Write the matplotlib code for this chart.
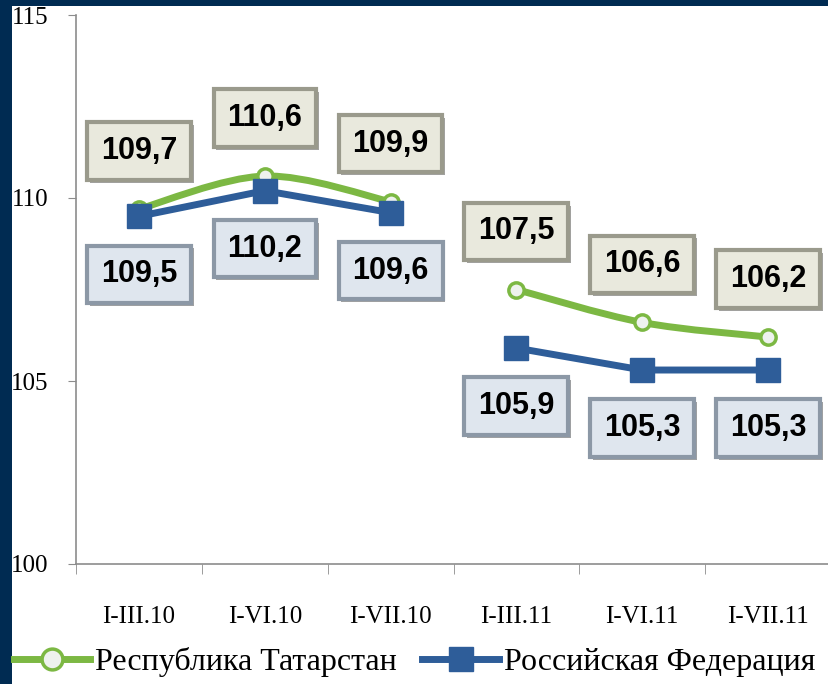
import matplotlib.pyplot as plt
import matplotlib.patheffects as pe
from matplotlib.path import Path
from matplotlib.patches import PathPatch, Rectangle
from matplotlib.lines import Line2D
from matplotlib.font_manager import FontProperties

periods = ['I-III.10', 'I-VI.10', 'I-VII.10', 'I-III.11', 'I-VI.11', 'I-VII.11']
tatarstan = [109.7, 110.6, 109.9, 107.5, 106.6, 106.2]
russia = [109.5, 110.2, 109.6, 105.9, 105.3, 105.3]
groups = [(0, 3), (3, 6)]
series_names = ['Республика Татарстан', 'Российская Федерация']

GREEN = '#7cb843'
BLUE = '#2e5d99'
NAVY = '#002b52'
GREY = '#8c8c8c'


def smooth_path(xs, ys):
    # сглаженная линия как в Excel (Catmull-Rom -> кривые Безье)
    pts = list(zip(xs, ys))
    verts = [pts[0]]
    codes = [Path.MOVETO]
    for i in range(len(pts) - 1):
        p0 = pts[max(i - 1, 0)]
        p1 = pts[i]
        p2 = pts[i + 1]
        p3 = pts[min(i + 2, len(pts) - 1)]
        c1 = (p1[0] + (p2[0] - p0[0]) / 6, p1[1] + (p2[1] - p0[1]) / 6)
        c2 = (p2[0] - (p3[0] - p1[0]) / 6, p2[1] - (p3[1] - p1[1]) / 6)
        verts += [c1, c2, p2]
        codes += [Path.CURVE4] * 3
    return Path(verts, codes)


fig = plt.figure(figsize=(8.29, 6.84), dpi=100, facecolor=NAVY)
fig.patches.append(Rectangle((12 / 829, 0), 1, (684 - 6) / 684, transform=fig.transFigure,
                             facecolor='white', edgecolor='none', zorder=-10))

ax = fig.add_axes([76 / 829, 120 / 684, 755 / 829, 549 / 684])
ax.set_facecolor('none')
ax.set_xlim(-0.5, 5.5)
ax.set_ylim(100, 115)

x = list(range(len(periods)))

for a, b in groups:
    xs = x[a:b]
    ax.add_patch(PathPatch(smooth_path(xs, tatarstan[a:b]), fill=False, edgecolor=GREEN,
                           lw=5, capstyle='round', zorder=2))
    ax.plot(xs, tatarstan[a:b], ls='none', marker='o', ms=11, mfc='#eef2ee', mec=GREEN,
            mew=2.5, zorder=3)
    ax.plot(xs, russia[a:b], color=BLUE, lw=5, marker='s', ms=17, mfc=BLUE, mec=BLUE,
            zorder=4)


def value_label(xv, yv, dy, fc, ec):
    t = ax.annotate(f'{yv:.1f}'.replace('.', ','), (xv, yv), xytext=(0, dy),
                    textcoords='offset pixels', ha='center', va='center',
                    fontsize=22, fontweight='bold', family='Liberation Sans', color='black',
                    bbox=dict(boxstyle='square,pad=0.45', fc=fc, ec=ec, lw=3), zorder=6)
    t.get_bbox_patch().set_path_effects([pe.SimplePatchShadow(offset=(2, -2), alpha=0.5),
                                         pe.Normal()])


for i in x:
    value_label(i, tatarstan[i], 58, '#e9e9dd', '#9a9a8c')
    value_label(i, russia[i], -58, '#dfe6ee', '#8c98a6')

for s in ['top', 'right']:
    ax.spines[s].set_visible(False)
for s in ['left', 'bottom']:
    ax.spines[s].set_color(GREY)
    ax.spines[s].set_linewidth(1.2)

ax.set_yticks([100, 105, 110, 115])
ax.set_yticklabels(['100', '105', '110', '115'], family='Liberation Serif', fontsize=18)
ax.tick_params(axis='y', direction='out', length=6, color=GREY, pad=14)

ax.set_xticks(x)
ax.set_xticklabels(periods, family='Liberation Serif', fontsize=18)
ax.set_xticks([i + 0.5 for i in range(-1, 6)], minor=True)
ax.tick_params(axis='x', which='major', length=0, pad=30)
ax.tick_params(axis='x', which='minor', direction='out', length=7, color=GREY)

handles = [
    Line2D([], [], color=GREEN, lw=5, marker='o', ms=15, mfc='#eef2ee', mec=GREEN, mew=2.5),
    Line2D([], [], color=BLUE, lw=5, marker='s', ms=17, mfc=BLUE, mec=BLUE),
]
fig.legend(handles, series_names, loc='center', bbox_to_anchor=(0.5, 22 / 684), ncol=2,
           frameon=False, handlelength=2.4, handletextpad=0.15, columnspacing=0.8,
           prop=FontProperties(family='Liberation Serif', size=23))

fig.savefig('out.png', dpi=100, facecolor=NAVY)
